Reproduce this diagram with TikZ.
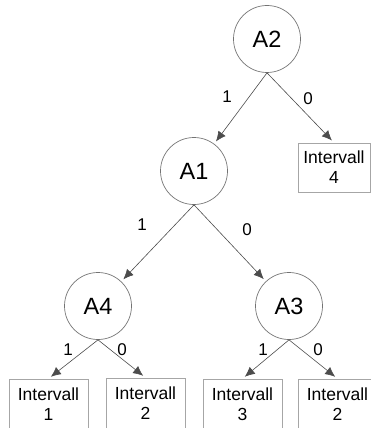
\documentclass[tikz,border=0pt]{standalone}
\usepackage{fontspec}
\setmainfont{Liberation Sans}
\usetikzlibrary{arrows.meta}
\begin{document}
\begin{tikzpicture}[x=1pt,y=-1pt,
  knot/.style={circle,draw=black!55,line width=0.7pt,minimum size=67pt,inner sep=0pt,font=\fontsize{23.5}{26}\selectfont},
  leaf/.style={rectangle,draw=black!35,line width=0.7pt,minimum width=79pt,minimum height=50pt,inner sep=0pt,align=center,font=\fontsize{17.5}{20}\selectfont},
  edge/.style={draw=black!70,line width=0.6pt,-{Latex[length=10pt,width=9pt]},shorten >=3pt},
  lab/.style={font=\fontsize{17}{19}\selectfont}]
\useasboundingbox (0,0) rectangle (371,428);
\node[knot] (A2) at (267,39) {A2};
\node[knot] (A1) at (194,171) {A1};
\node[knot] (A4) at (98,306) {A4};
\node[knot] (A3) at (289,306) {A3};
\node[leaf,minimum width=72pt,minimum height=49pt] (I4) at (334,167.5) {Intervall\\4};
\node[leaf] (I1) at (48.5,404) {Intervall\\1};
\node[leaf] (I2a) at (145.5,403) {Intervall\\2};
\node[leaf] (I3) at (242.5,404) {Intervall\\3};
\node[leaf] (I2b) at (337.5,404) {Intervall\\2};
\draw[edge] (A2.south) -- (A1);
\draw[edge] (A2.south) -- (I4.north);
\draw[edge] (A1.south) -- (A4);
\draw[edge] (A1.south) -- (A3);
\draw[edge] (A4.south) -- (I1.north);
\draw[edge] (A4.south) -- (I2a.north);
\draw[edge] (A3.south) -- (I3.north);
\draw[edge] (A3.south) -- (I2b.north);
\node[lab] (l1) at (227,97) {1};
\node[lab] (l2) at (308,99) {0};
\node[lab] (l3) at (142,225) {1};
\node[lab] (l4) at (247,230) {0};
\node[lab] (l5) at (68,350) {1};
\node[lab] (l6) at (122,350) {0};
\node[lab] (l7) at (263,350) {1};
\node[lab] (l8) at (318,350) {0};
\end{tikzpicture}
\end{document}
